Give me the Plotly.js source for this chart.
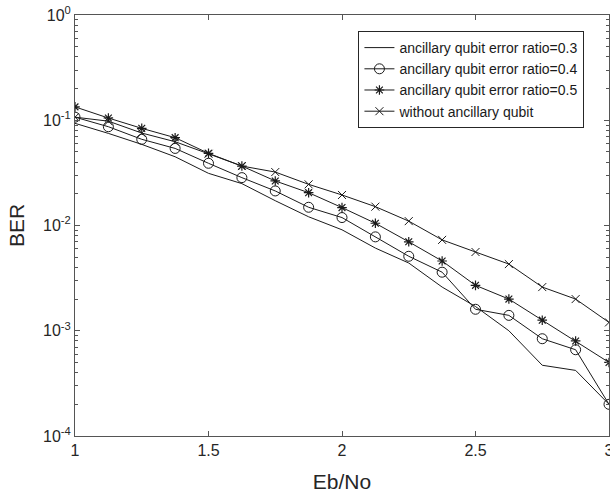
<!DOCTYPE html>
<html>
<head>
<meta charset="utf-8">
<script src="https://cdn.plot.ly/plotly-3.0.1.min.js"></script>
<style>html,body{margin:0;padding:0;background:#fff;}#chart{width:610px;height:493px;}</style>
</head>
<body>
<div id="chart"></div>
<script>
var ebno = [1, 1.125, 1.25, 1.375, 1.5, 1.625, 1.75, 1.875, 2, 2.125, 2.25, 2.375, 2.5, 2.625, 2.75, 2.875, 3];
var ber03 = [0.0935, 0.075, 0.059, 0.045, 0.0313, 0.025, 0.0172, 0.0121, 0.0091, 0.0061, 0.0044, 0.0026, 0.0017, 0.001, 0.00047, 0.00042, 0.0002];
var ber04 = [0.107, 0.0868, 0.0659, 0.054, 0.039, 0.0285, 0.0213, 0.0149, 0.0119, 0.0078, 0.0051, 0.0036, 0.0016, 0.0014, 0.00084, 0.00066, 0.0002];
var ber05 = [0.134, 0.105, 0.0838, 0.0683, 0.0485, 0.0367, 0.0265, 0.0205, 0.0148, 0.0105, 0.0070, 0.0046, 0.0027, 0.0020, 0.00126, 0.00080, 0.0005];
var berNone = [0.107, 0.098, 0.0756, 0.0625, 0.048, 0.0367, 0.0322, 0.0246, 0.0195, 0.0151, 0.011, 0.0073, 0.0056, 0.0043, 0.0026, 0.0020, 0.0012];
var seriesNames = ['ancillary qubit error ratio=0.3', 'ancillary qubit error ratio=0.4', 'ancillary qubit error ratio=0.5', 'without ancillary qubit'];
var yTickVals = [1e-4, 1e-3, 1e-2, 1e-1, 1];
var yTickText = ['10<sup>-4</sup>', '10<sup>-3</sup>', '10<sup>-2</sup>', '10<sup>-1</sup>', '10<sup>0</sup>'];
var xTickVals = [1, 1.5, 2, 2.5, 3];
var xTickText = ['1', '1.5', '2', '2.5', '3'];

var lineStyle = {color: '#1a1a1a', width: 1};
var traces = [
  {x: ebno, y: ber03, name: seriesNames[0], mode: 'lines', line: lineStyle},
  {x: ebno, y: ber04, name: seriesNames[1], mode: 'lines+markers', line: lineStyle,
   marker: {symbol: 'circle-open', size: 10, color: '#1a1a1a', line: {width: 1}}},
  {x: ebno, y: ber05, name: seriesNames[2], mode: 'lines+markers', line: lineStyle,
   marker: {symbol: 'asterisk-open', size: 8, color: '#1a1a1a', line: {width: 1.2}}},
  {x: ebno, y: berNone, name: seriesNames[3], mode: 'lines+markers', line: lineStyle,
   marker: {symbol: 'x-thin-open', size: 8, color: '#1a1a1a', line: {width: 1}}}
];
var axisColor = '#555555';
var layout = {
  width: 610, height: 493,
  margin: {l: 75, r: 1, t: 15, b: 57},
  paper_bgcolor: '#ffffff', plot_bgcolor: '#ffffff',
  font: {family: 'Liberation Sans, Arial, sans-serif', color: '#262626'},
  showlegend: true,
  legend: {
    x: 0.954, y: 0.962, xanchor: 'right', yanchor: 'top',
    bgcolor: '#ffffff', bordercolor: '#262626', borderwidth: 1,
    font: {size: 14, color: '#1a1a1a', family: 'Liberation Sans, Arial, sans-serif'},
    tracegroupgap: 0, itemwidth: 30
  },
  xaxis: {
    range: [1, 3], tickvals: xTickVals, ticktext: xTickText,
    ticks: 'inside', ticklen: 5, tickcolor: axisColor,
    showline: true, linecolor: axisColor, linewidth: 1, mirror: 'ticks',
    showgrid: false, zeroline: false, ticklabeloverflow: 'allow',
    tickfont: {size: 16, color: '#262626'},
    title: {text: 'Eb/No', font: {size: 21, color: '#262626'}, standoff: 17}
  },
  yaxis: {
    type: 'log', range: [-4, 0], tickvals: yTickVals, ticktext: yTickText,
    ticks: 'inside', ticklen: 5, tickcolor: axisColor,
    showline: true, linecolor: axisColor, linewidth: 1, mirror: 'ticks',
    showgrid: false, zeroline: false,
    tickfont: {size: 16, color: '#262626'},
    minor: {ticks: 'inside', ticklen: 3, tickcolor: axisColor, dtick: 'D1', showgrid: false},
    title: {text: 'BER', font: {size: 21, color: '#262626'}, standoff: 12}
  }
};
Plotly.newPlot('chart', traces, layout, {displayModeBar: false, staticPlot: true});
</script>
</body>
</html>
